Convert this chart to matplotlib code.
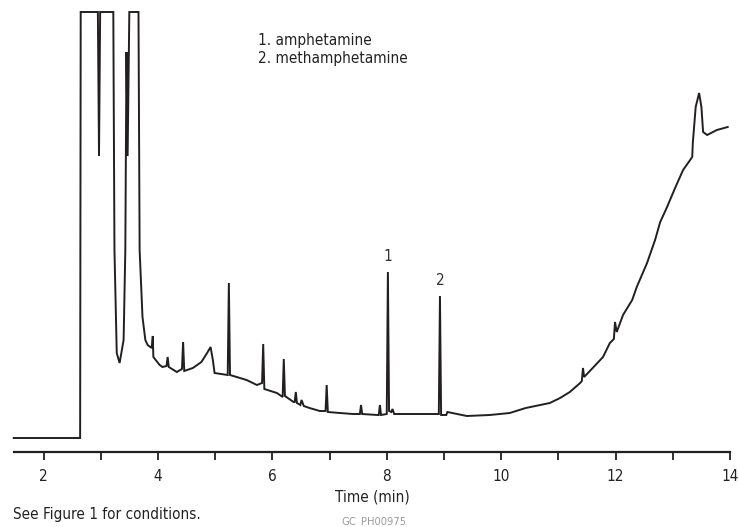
import matplotlib.pyplot as plt
from matplotlib.ticker import MultipleLocator

plt.rcParams['font.family'] = ['DejaVu Sans']
plt.rcParams['font.stretch'] = 'condensed'

# chromatogram trace: time (min) and detector signal (arb.)
time_min = [1.48, 2.64, 2.65, 2.95, 2.97, 2.99, 3.22, 3.24, 3.28, 3.33, 3.40, 3.43,
            3.45, 3.47, 3.50, 3.66, 3.68, 3.73, 3.78, 3.82, 3.89, 3.91, 3.92, 4.03,
            4.08, 4.15, 4.17, 4.19, 4.33, 4.42, 4.44, 4.46, 4.61, 4.76, 4.87, 4.92,
            4.96, 4.99, 5.22, 5.24, 5.26, 5.55, 5.73, 5.82, 5.84, 5.86, 6.08, 6.18,
            6.20, 6.22, 6.37, 6.39, 6.41, 6.43, 6.49, 6.51, 6.55, 6.65, 6.83, 6.93,
            6.95, 6.97, 7.18, 7.41, 7.53, 7.55, 7.57, 7.84, 7.86, 7.88, 7.90, 8.00,
            8.02, 8.04, 8.08, 8.10, 8.13, 8.53, 8.91, 8.93, 8.95, 9.04, 9.06, 9.40,
            9.80, 10.15, 10.43, 10.85, 11.03, 11.20, 11.38, 11.41, 11.43, 11.45, 11.60, 11.78,
            11.90, 11.97, 11.99, 12.02, 12.13, 12.29, 12.37, 12.55, 12.69, 12.78, 12.90, 13.04,
            13.18, 13.34, 13.35, 13.40, 13.46, 13.50, 13.53, 13.60, 13.77, 13.96]
signal = [14, 14, 440, 440, 296, 440, 440, 202, 99, 89, 112, 202,
          400, 296, 440, 440, 202, 135, 112, 107, 104, 116, 95, 87,
          85, 86, 95, 85, 80, 83, 110, 81, 84, 90, 100, 105,
          92, 79, 77, 169, 77, 72, 67, 69, 108, 63, 59, 55,
          93, 56, 50, 50, 60, 49, 47, 52, 46, 44, 41, 41,
          67, 40, 39, 38, 38, 47, 38, 37, 37, 47, 37, 38,
          180, 41, 40, 43, 38, 38, 38, 156, 37, 37, 40, 36,
          37, 39, 44, 49, 54, 60, 69, 71, 84, 75, 84, 95,
          109, 113, 130, 120, 137, 152, 165, 189, 212, 230, 245, 264,
          282, 295, 309, 345, 359, 345, 320, 317, 322, 325]

peak_labels = ['1', '2']
peak_times = [8.02, 8.93]
peak_heights = [180, 156]
legend_lines = ['1. amphetamine', '2. methamphetamine']

W, H = 739, 527
fig = plt.figure(figsize=(W / 100, H / 100), dpi=100)
ax = fig.add_axes([14 / W, (H - 452) / H, (730 - 14) / W, (452 - 10) / H])

ink = '#231f20'
ax.plot(time_min, signal, color=ink, lw=1.4, solid_joinstyle='miter', clip_on=False)

for lab, t, h in zip(peak_labels, peak_times, peak_heights):
    ax.text(t, h + 8, lab, ha='center', va='bottom', fontsize=11, color='#333333')

ax.set_xlim(1.484, 14.0)
ax.set_ylim(0, 442)
ax.xaxis.set_major_locator(MultipleLocator(2))
ax.xaxis.set_minor_locator(MultipleLocator(1))
ax.tick_params(axis='x', which='both', direction='out', length=6, width=1.3,
               color=ink, labelsize=11, labelcolor='#222222', pad=6)
ax.set_yticks([])
for side in ['top', 'left', 'right']:
    ax.spines[side].set_visible(False)
ax.spines['bottom'].set_linewidth(1.6)
ax.spines['bottom'].set_color(ink)
ax.patch.set_visible(False)

ax.set_xlabel('Time (min)', fontsize=11, color='#222222', labelpad=4)

fig.text(258 / W, 1 - 41 / H, legend_lines[0], fontsize=11, va='center', color='#222222')
fig.text(258 / W, 1 - 58 / H, legend_lines[1], fontsize=11, va='center', color='#222222')
fig.text(13 / W, 1 - 514 / H, 'See Figure 1 for conditions.', fontsize=11,
         va='center', color='#222222')
fig.text(374 / W, 0.0, 'GC_PH00975', fontsize=8, ha='center', va='bottom',
         color='#9a9a9a')

fig.savefig('out.png', dpi=100)
